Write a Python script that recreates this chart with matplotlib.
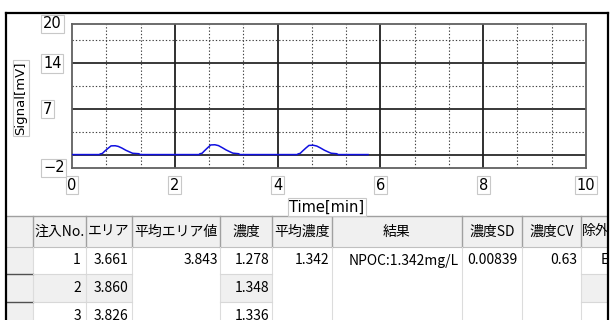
import matplotlib
matplotlib.use("Agg")
import matplotlib.pyplot as plt
from matplotlib.patches import Rectangle

plt.rcParams["font.family"] = ["Noto Sans CJK JP", "DejaVu Sans"]

# ---- chromatogram ----
time_min = [0.00, 0.53, 0.55, 0.59, 0.64, 0.70, 0.76, 0.84, 0.90, 0.97, 1.05, 1.13, 1.18, 1.30, 1.33,
            2.47, 2.49, 2.53, 2.58, 2.64, 2.70, 2.78, 2.85, 2.92, 3.00, 3.08, 3.13, 3.24, 3.27,
            4.38, 4.40, 4.44, 4.49, 4.55, 4.61, 4.69, 4.76, 4.83, 4.91, 4.99, 5.04, 5.15, 5.18,
            5.76]
signal_mv = [0.05, 0.05, 0.15, 0.22, 0.60, 1.00, 1.38, 1.40, 1.30, 1.05, 0.70, 0.42, 0.25, 0.18, 0.05,
             0.05, 0.18, 0.25, 0.65, 1.10, 1.52, 1.55, 1.42, 1.12, 0.75, 0.45, 0.27, 0.18, 0.05,
             0.05, 0.16, 0.24, 0.62, 1.05, 1.45, 1.48, 1.36, 1.08, 0.72, 0.43, 0.26, 0.18, 0.05,
             0.05]
x_ticks = [0, 2, 4, 6, 8, 10]
y_ticks = [-2, 7, 14, 20]

# ---- result table ----
headers = ["", "注入No.", "エリア", "平均エリア値", "濃度", "平均濃度", "結果", "濃度SD", "濃度CV", "除外"]
injection_no = [1, 2, 3]
area = [3.661, 3.860, 3.826]
mean_area = 3.843
conc = [1.278, 1.348, 1.336]
mean_conc = 1.342
result = "NPOC:1.342mg/L"
conc_sd = 0.00839
conc_cv = 0.63
excluded = ["E", "", ""]

W, H = 611, 320
fig = plt.figure(figsize=(W / 100, H / 100), dpi=100)

# pixel canvas for frame + table
bg = fig.add_axes([0, 0, 1, 1])
bg.set_xlim(0, W)
bg.set_ylim(H, 0)
bg.axis("off")

# chart axes
L, R, T, B = 72, 586, 24, 168
ax = fig.add_axes([L / W, (H - B) / H, (R - L) / W, (B - T) / H])
ax.set_zorder(2)
ax.patch.set_alpha(0)
ax.set_xlim(0, 10)
ax.set_ylim(-2, 20)
ax.set_xticks([])
ax.set_yticks([])
for s in ax.spines.values():
    s.set_color("#606060")
    s.set_linewidth(1.3)

for v in [0, 7, 14]:
    ax.axhline(v, color="#383838", lw=1.4, zorder=1)
for v in [3.5, 10.5, 17.5]:
    ax.axhline(v, color="#404040", lw=0.8, ls=(0, (1.2, 1.8)), zorder=1)
for v in [2, 4, 6, 8]:
    ax.axvline(v, color="#202020", lw=1.3, zorder=1)
for i in range(15):
    if i % 3:
        ax.axvline(i * 2 / 3, color="#404040", lw=0.8, ls=(0, (1.2, 1.8)), zorder=1)

ax.plot(time_min, signal_mv, color="#1010e0", lw=1.1, zorder=3)

box = dict(boxstyle="square,pad=0.12", fc="white", ec="#c8c8c8", lw=0.8)
for v in y_ticks:
    ax.text((43 - L) / (R - L), v, str(v).replace("-", "\u2212"), transform=ax.get_yaxis_transform(),
            ha="left", va="center", fontsize=10.5, family="DejaVu Sans", bbox=box, clip_on=False)
for v in x_ticks:
    ax.text(v, (B - 185) / (B - T), str(v), transform=ax.get_xaxis_transform(),
            ha="center", va="center", fontsize=10.5, family="DejaVu Sans", bbox=box, clip_on=False)

fig.text(21 / W, 1 - 98 / H, "Signal[mV]", rotation=90, ha="center", va="center",
         fontsize=9.5, family="DejaVu Sans", bbox=box)
fig.text(327 / W, 1 - 207 / H, "Time[min]", ha="center", va="center",
         fontsize=10.5, family="DejaVu Sans", bbox=box)

# table layout in pixels
col_edges = [6, 33, 86, 132, 220, 272, 332, 462, 522, 581, 640]
row_edges = [216, 247, 274, 302, 330]
gray = "#f0f0f0"

# header row and row-header column
bg.add_patch(Rectangle((6, row_edges[0]), 640, row_edges[1] - row_edges[0], fc=gray, ec="none"))
bg.add_patch(Rectangle((6, row_edges[0]), col_edges[1] - 6, H, fc=gray, ec="none"))
# alternating shade on per-injection columns of row 2
for c in [1, 2, 4, 9]:
    bg.add_patch(Rectangle((col_edges[c], row_edges[2]), col_edges[c + 1] - col_edges[c],
                           row_edges[3] - row_edges[2], fc=gray, ec="none"))

bg.plot([6, W], [row_edges[0], row_edges[0]], color="#a0a0a0", lw=1)
bg.plot([6, W], [row_edges[1], row_edges[1]], color="#c0c0c0", lw=0.8)
for x in col_edges[1:-1]:
    bg.plot([x, x], [row_edges[0], row_edges[1]], color="#a0a0a0", lw=1)
    bg.plot([x, x], [row_edges[1], H], color="#dcdcdc", lw=0.8)
for y in row_edges[2:4]:
    bg.plot([6, col_edges[1]], [y, y], color="#505050", lw=1)
    for c in [1, 2, 4, 9]:
        bg.plot([col_edges[c], col_edges[c + 1]], [y, y], color="#d8d8d8", lw=0.8)

fs = 10
hy = (row_edges[0] + row_edges[1]) / 2
for c, h in enumerate(headers):
    if not h:
        continue
    cx = (col_edges[c] + col_edges[c + 1]) / 2
    if c == 9:
        cx = 596
    bg.text(cx, hy, h, ha="center", va="center", fontsize=fs)

for r in range(3):
    cy = (row_edges[r + 1] + row_edges[r + 2]) / 2
    bg.text(col_edges[2] - 5, cy, str(injection_no[r]), ha="right", va="center", fontsize=fs)
    bg.text(col_edges[3] - 4, cy, f"{area[r]:.3f}", ha="right", va="center", fontsize=fs)
    bg.text(col_edges[5] - 3, cy, f"{conc[r]:.3f}", ha="right", va="center", fontsize=fs)
    if excluded[r]:
        bg.text(601, cy, excluded[r], ha="left", va="center", fontsize=fs)

cy = (row_edges[1] + row_edges[2]) / 2
bg.text(col_edges[4] - 2, cy, f"{mean_area:.3f}", ha="right", va="center", fontsize=fs)
bg.text(col_edges[6] - 3, cy, f"{mean_conc:.3f}", ha="right", va="center", fontsize=fs)
bg.text(col_edges[7] - 3, cy, result, ha="right", va="center", fontsize=fs)
bg.text(col_edges[8] - 4, cy, f"{conc_sd:.5f}", ha="right", va="center", fontsize=fs)
bg.text(col_edges[9] - 4, cy, f"{conc_cv:.2f}", ha="right", va="center", fontsize=fs)

# clip at window edge and outer frame
bg.add_patch(Rectangle((608, 0), 10, H, fc="white", ec="none", zorder=5))
bg.plot([6, 608], [13, 13], color="black", lw=1.6, zorder=6)
bg.plot([6, 6], [13, H], color="black", lw=1.6, zorder=6)
bg.plot([608, 608], [13, H], color="black", lw=1.6, zorder=6)

fig.savefig("out.png", dpi=100)
